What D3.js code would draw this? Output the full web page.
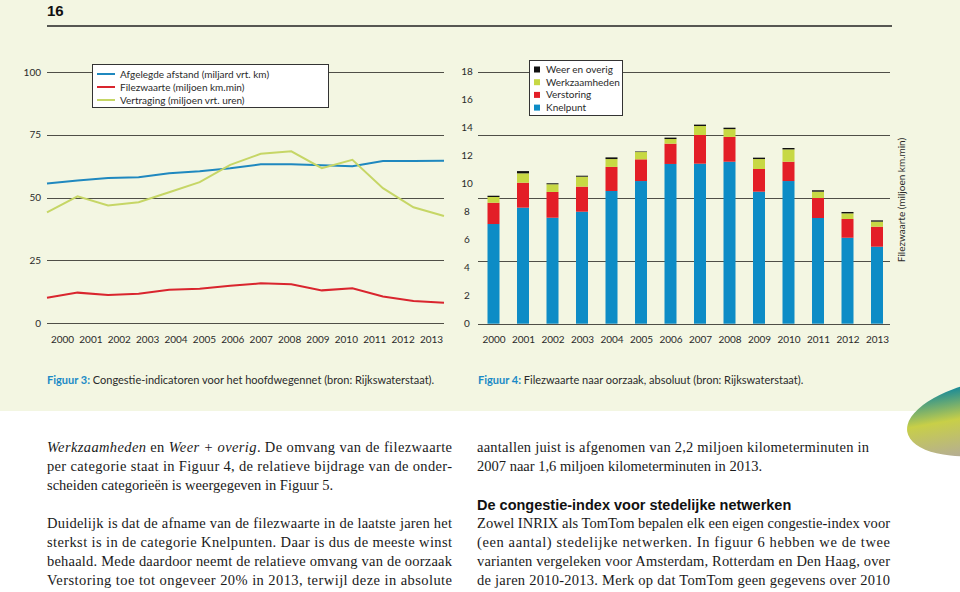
<!DOCTYPE html>
<html><head><meta charset="utf-8">
<script src="https://cdn.jsdelivr.net/npm/d3@7"></script>
<style>body{margin:0;padding:0;background:#fff;}svg{display:block;}</style>
</head><body>
<script>
// ---------- DATA ----------
const years = ["2000","2001","2002","2003","2004","2005","2006","2007","2008","2009","2010","2011","2012","2013"];
// Figuur 3
const afstand = [55.6,56.8,57.8,58.1,59.7,60.5,61.7,63.2,63.2,62.8,62.5,64.5,64.5,64.6];
const filezwaarteLine = [10.1,12.1,11.2,11.7,13.2,13.6,14.8,15.8,15.4,13.0,13.8,10.6,8.8,8.1];
const vertraging = [44.1,50.5,46.8,48.1,52.1,56.1,63.0,67.4,68.4,61.7,65.0,53.7,46.1,42.6];
const leftTicks = [0,25,50,75,100];
const lineSeries = ["Afgelegde afstand (miljard vrt. km)","Filezwaarte (miljoen km.min)","Vertraging (miljoen vrt. uren)"];
// Figuur 4
const knelpunt = [7.12,8.29,7.57,8.0,9.48,10.19,11.41,11.43,11.57,9.43,10.19,7.55,6.14,5.5];
const verstoring = [1.52,1.78,1.84,1.79,1.72,1.55,1.45,2.05,1.77,1.62,1.38,1.43,1.34,1.43];
const werkzaamheden = [0.41,0.67,0.55,0.71,0.56,0.52,0.33,0.64,0.56,0.71,0.88,0.45,0.40,0.36];
const weerOverig = [0.09,0.16,0.07,0.07,0.12,0.04,0.10,0.10,0.10,0.10,0.10,0.10,0.10,0.09];
const barSeries = ["Knelpunt","Verstoring","Werkzaamheden","Weer en overig"];
const rightTicks = [0,2,4,6,8,10,12,14,16,18];
const rightGrid = [0,4.5,9,13.5,18];

// ---------- STYLE ----------
const W=960,H=592;
const cream="#f3f6e2", grid="#4f4f47", txt="#2a2a2a";
const lineColors=["#1f88bf","#d9252e","#c6d666"];
const barColors={"Knelpunt":"#0d8cc6","Verstoring":"#e31e27","Werkzaamheden":"#c7d844","Weer en overig":"#111"};
const sans="Lato, 'Open Sans', sans-serif";
const serif="'Liberation Serif', 'DejaVu Serif', serif";

const svg=d3.select("body").append("svg").attr("width",W).attr("height",H);
const defs=svg.append("defs");
svg.append("rect").attr("width",W).attr("height",411).attr("fill",cream);
svg.append("rect").attr("y",411).attr("width",W).attr("height",H-411).attr("fill","#fff");

// decorative leaf
const lg=defs.append("linearGradient").attr("id","leaf").attr("x1",0).attr("y1",0).attr("x2",0).attr("y2",1);
lg.append("stop").attr("offset","0%").attr("stop-color","#10879c");
lg.append("stop").attr("offset","45%").attr("stop-color","#c8cf48");
lg.append("stop").attr("offset","100%").attr("stop-color","#b3aa9c");
svg.append("ellipse").attr("cx",992).attr("cy",417).attr("rx",86).attr("ry",37)
  .attr("transform","rotate(-10 992 417)").attr("fill","url(#leaf)");

// header
svg.append("text").attr("x",47).attr("y",16).attr("font-family","'Liberation Sans', sans-serif")
  .attr("font-weight","bold").attr("font-size",15).attr("fill","#111").text("16");
svg.append("line").attr("x1",47).attr("x2",892).attr("y1",26).attr("y2",26).attr("stroke","#222").attr("stroke-width",1.6);

// ---------- LEFT CHART ----------
const yL=d3.scaleLinear().domain([0,100]).range([323,72]);
const xL=d3.scalePoint().domain(years).range([47,444]);
const xLlab=d3.scalePoint().domain(years).range([62,431]);
const gL=svg.append("g");
gL.selectAll("line.g").data(leftTicks).join("line").attr("x1",47).attr("x2",444)
  .attr("y1",d=>Math.round(yL(d))+0.5).attr("y2",d=>Math.round(yL(d))+0.5).attr("stroke",grid).attr("stroke-width",1);
gL.selectAll("text.yt").data(leftTicks).join("text").attr("x",41).attr("y",d=>yL(d)+3.5)
  .attr("text-anchor","end").attr("font-family",sans).attr("font-size",10).attr("fill",txt).text(d=>d);
const xAxL=d3.axisBottom(xLlab).tickSize(0).tickPadding(0);
gL.append("g").attr("transform","translate(0,336)").call(xAxL).call(g=>{g.select(".domain").remove();
  g.selectAll("text").attr("font-family",sans).attr("font-size",10).attr("fill",txt);});
const line=d3.line().x((d,i)=>xL(years[i])).y(d=>yL(d));
[afstand,filezwaarteLine,vertraging].forEach((s,k)=>{
  gL.append("path").attr("d",line(s)).attr("fill","none").attr("stroke",lineColors[k]).attr("stroke-width",2);
});
// legend left
const lgL=svg.append("g");
lgL.append("rect").attr("x",92.5).attr("y",64.5).attr("width",236).attr("height",43).attr("fill","#fff").attr("stroke","#333").attr("stroke-width",1);
lineSeries.forEach((n,i)=>{
  const y=74+i*13;
  lgL.append("line").attr("x1",97).attr("x2",115).attr("y1",y).attr("y2",y).attr("stroke",lineColors[i]).attr("stroke-width",2);
  lgL.append("text").attr("x",120).attr("y",y+3.5).attr("font-family",sans).attr("font-size",10).attr("fill",txt).text(n);
});

// ---------- RIGHT CHART ----------
const yR=d3.scaleLinear().domain([0,18]).range([323.7,71.7]);
const xR=d3.scalePoint().domain(years).range([493.5,877]);
const bw=12;
const gR=svg.append("g");
gR.selectAll("line.g").data(rightGrid).join("line").attr("x1",478).attr("x2",890)
  .attr("y1",d=>Math.round(yR(d))+0.5).attr("y2",d=>Math.round(yR(d))+0.5).attr("stroke",grid).attr("stroke-width",1);
gR.selectAll("text.yt").data(rightTicks).join("text").attr("x",467).attr("y",d=>yR(d)+3.5)
  .attr("text-anchor","middle").attr("font-family",sans).attr("font-size",10).attr("fill",txt).text(d=>d);
const rows=years.map((y,i)=>({year:y,"Knelpunt":knelpunt[i],"Verstoring":verstoring[i],"Werkzaamheden":werkzaamheden[i],"Weer en overig":weerOverig[i]}));
const stack=d3.stack().keys(barSeries)(rows);
stack.forEach(layer=>{
  gR.selectAll(null).data(layer).join("rect")
    .attr("x",d=>xR(d.data.year)-bw/2).attr("width",bw)
    .attr("y",d=>yR(d[1])).attr("height",d=>yR(d[0])-yR(d[1]))
    .attr("fill",barColors[layer.key]);
});
const xAxR=d3.axisBottom(xR).tickSize(0).tickPadding(0);
gR.append("g").attr("transform","translate(0,336)").call(xAxR).call(g=>{g.select(".domain").remove();
  g.selectAll("text").attr("font-family",sans).attr("font-size",10).attr("fill",txt);});
svg.append("text").attr("transform","translate(905,200) rotate(-90)").attr("text-anchor","middle")
  .attr("font-family",sans).attr("font-size",10).attr("fill",txt).text("Filezwaarte (miljoen km.min)");
// legend right
const lgR=svg.append("g");
lgR.append("rect").attr("x",529.5).attr("y",60.5).attr("width",93).attr("height",55).attr("fill","#fff").attr("stroke","#333").attr("stroke-width",1);
barSeries.slice().reverse().forEach((n,i)=>{
  const y=69.5+i*12.7;
  lgR.append("rect").attr("x",534).attr("y",y-3).attr("width",6).attr("height",6).attr("fill",barColors[n]);
  lgR.append("text").attr("x",546).attr("y",y+3.5).attr("font-family",sans).attr("font-size",10).attr("fill",txt).text(n);
});

// ---------- CAPTIONS ----------
function caption(x,label,rest){
  const t=svg.append("text").attr("x",x).attr("y",384).attr("font-family",sans).attr("font-size",11).attr("fill",txt);
  t.append("tspan").attr("fill","#1a8ac6").attr("font-weight","bold").text(label);
  t.append("tspan").text(rest);
}
caption(47,"Figuur 3:"," Congestie-indicatoren voor het hoofdwegennet (bron: Rijkswaterstaat).");
caption(478,"Figuur 4:"," Filezwaarte naar oorzaak, absoluut (bron: Rijkswaterstaat).");

// ---------- BODY TEXT ----------
function para(x,y,width,parts,justify){
  const t=svg.append("text").attr("x",x).attr("y",y).attr("font-family",serif).attr("font-size",14.5).attr("fill","#1a1a1a");
  if(justify) t.attr("textLength",width).attr("lengthAdjust","spacing");
  parts.forEach(p=>{const s=t.append("tspan").text(p[0]); if(p[1]) s.attr("font-style","italic");});
}
const L=47, LW=405, R=477, RW=413;
para(L,452,LW,[["Werkzaamheden",1],[" en "],["Weer + overig",1],[". De omvang van de filezwaarte"]],true);
para(L,471,LW,[["per categorie staat in Figuur 4, de relatieve bijdrage van de onder-"]],true);
para(L,490,LW,[["scheiden categorieën is weergegeven in Figuur 5."]],false);
para(L,528,LW,[["Duidelijk is dat de afname van de filezwaarte in de laatste jaren het"]],true);
para(L,547,LW,[["sterkst is in de categorie Knelpunten. Daar is dus de meeste winst"]],true);
para(L,566,LW,[["behaald. Mede daardoor neemt de relatieve omvang van de oorzaak"]],true);
para(L,585,LW,[["Verstoring toe tot ongeveer 20% in 2013, terwijl deze in absolute"]],true);

para(R,452,392,[["aantallen juist is afgenomen van 2,2 miljoen kilometerminuten in"]],true);
para(R,471,RW,[["2007 naar 1,6 miljoen kilometerminuten in 2013."]],false);
svg.append("text").attr("x",R).attr("y",510).attr("font-family","'Liberation Sans', sans-serif").attr("font-weight","bold")
  .attr("font-size",14.5).attr("fill","#111").text("De congestie-index voor stedelijke netwerken");
para(R,528,RW,[["Zowel INRIX als TomTom bepalen elk een eigen congestie-index voor"]],true);
para(R,547,RW,[["(een aantal) stedelijke netwerken. In figuur 6 hebben we de twee"]],true);
para(R,566,RW,[["varianten vergeleken voor Amsterdam, Rotterdam en Den Haag, over"]],true);
para(R,585,RW,[["de jaren 2010-2013. Merk op dat TomTom geen gegevens over 2010"]],true);
</script>
</body></html>
